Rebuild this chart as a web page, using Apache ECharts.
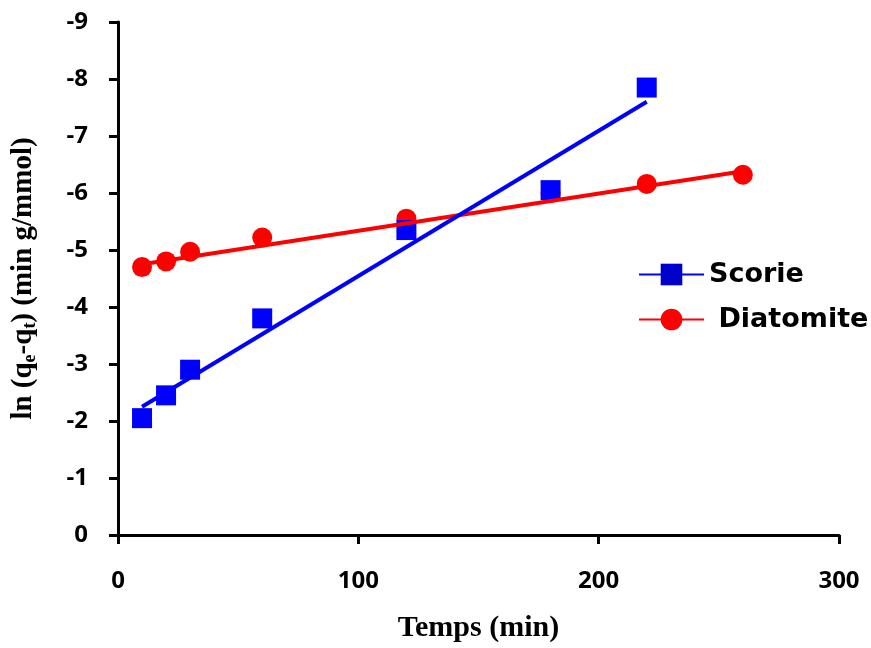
<!DOCTYPE html>
<html>
<head>
<meta charset="utf-8">
<script src="https://cdn.jsdelivr.net/npm/echarts@6/dist/echarts.min.js"></script>
<style>html,body{margin:0;padding:0;background:#fff}#c{width:871px;height:648px}</style>
</head>
<body>
<div id="c"></div>
<script>
const timeScorie = [10, 20, 30, 60, 120, 180, 220];
const scorie = [-2.05, -2.45, -2.9, -3.8, -5.35, -6.05, -7.85];
const timeDiatomite = [10, 20, 30, 60, 120, 180, 220, 260];
const diatomite = [-4.7, -4.8, -4.97, -5.22, -5.55, -6.0, -6.16, -6.32];
const fitScorieX = [10, 220];
const fitScorieY = [-2.25, -7.6];
const fitDiatomiteX = [10, 260];
const fitDiatomiteY = [-4.75, -6.38];
const xTicks = [0, 100, 200, 300];
const yTicks = [-9, -8, -7, -6, -5, -4, -3, -2, -1, 0];

const pair = (xs, ys) => xs.map((x, i) => [x, ys[i]]);

const chart = echarts.init(document.getElementById('c'));
chart.setOption({
  animation: false,
  backgroundColor: '#fff',
  grid: { left: 118, right: 32, top: 22, bottom: 110, containLabel: false },
  xAxis: {
    type: 'value', min: xTicks[0], max: xTicks[xTicks.length - 1], interval: 100,
    axisLine: { lineStyle: { color: '#000', width: 3 } },
    axisTick: { inside: false, length: 9, lineStyle: { color: '#000', width: 3 } },
    axisLabel: { color: '#000', fontFamily: 'Open Sans', fontWeight: 'bold', fontSize: 24, margin: 34 },
    splitLine: { show: false },
    name: 'Temps (min)', nameLocation: 'middle', nameGap: 78,
    nameTextStyle: { color: '#000', fontFamily: 'Liberation Serif', fontWeight: 'bold', fontSize: 30 }
  },
  yAxis: {
    type: 'value', min: yTicks[0], max: yTicks[yTicks.length - 1], interval: 1, inverse: true,
    axisLine: { lineStyle: { color: '#000', width: 3 } },
    axisTick: { inside: false, length: 9, lineStyle: { color: '#000', width: 3 } },
    axisLabel: { color: '#000', fontFamily: 'Open Sans', fontWeight: 'bold', fontSize: 24, margin: 30 },
    splitLine: { show: false },
    name: '{n|ln (q}{s|e}{n|-q}{s|t}{n|) (min g/mmol)}',
    nameLocation: 'middle', nameGap: 79, nameRotate: 90,
    nameTextStyle: {
      rich: {
        n: { color: '#000', fontFamily: 'Liberation Serif', fontWeight: 'bold', fontSize: 29 },
        s: { color: '#000', fontFamily: 'Liberation Serif', fontWeight: 'bold', fontSize: 18, verticalAlign: 'bottom', padding: [12, 0, 0, 0] }
      }
    }
  },
  legend: {
    left: 633, top: 256, orient: 'vertical',
    itemWidth: 65, itemHeight: 27, itemGap: 18,
    textStyle: { color: '#000', fontFamily: 'DejaVu Sans', fontWeight: 'bold', fontSize: 27 },
    formatter: name => name === 'Diatomite' ? ' ' + name : name,
    data: [
      { name: 'Scorie', itemStyle: { color: '#0000cc' }, lineStyle: { color: '#0000ff', width: 2, opacity: 1 } },
      { name: 'Diatomite', itemStyle: { color: '#ff0000' }, lineStyle: { color: '#ff0000', width: 2, opacity: 1 } }
    ]
  },
  series: [
    {
      name: 'Diatomite', type: 'line', data: pair(timeDiatomite, diatomite),
      symbol: 'circle', symbolSize: 20, itemStyle: { color: '#ff0000' },
      lineStyle: { opacity: 0, width: 0 }, z: 2
    },
    {
      name: 'Scorie', type: 'line', data: pair(timeScorie, scorie),
      symbol: 'rect', symbolSize: 20, itemStyle: { color: '#0000ff' },
      lineStyle: { opacity: 0, width: 0 }, z: 3
    },
    {
      name: 'fitD', type: 'line', data: pair(fitDiatomiteX, fitDiatomiteY),
      showSymbol: false, symbol: 'none', lineStyle: { color: '#ff0000', width: 4 }, z: 4
    },
    {
      name: 'fitS', type: 'line', data: pair(fitScorieX, fitScorieY),
      showSymbol: false, symbol: 'none', lineStyle: { color: '#0000ff', width: 4 }, z: 5
    }
  ]
});
</script>
</body>
</html>
